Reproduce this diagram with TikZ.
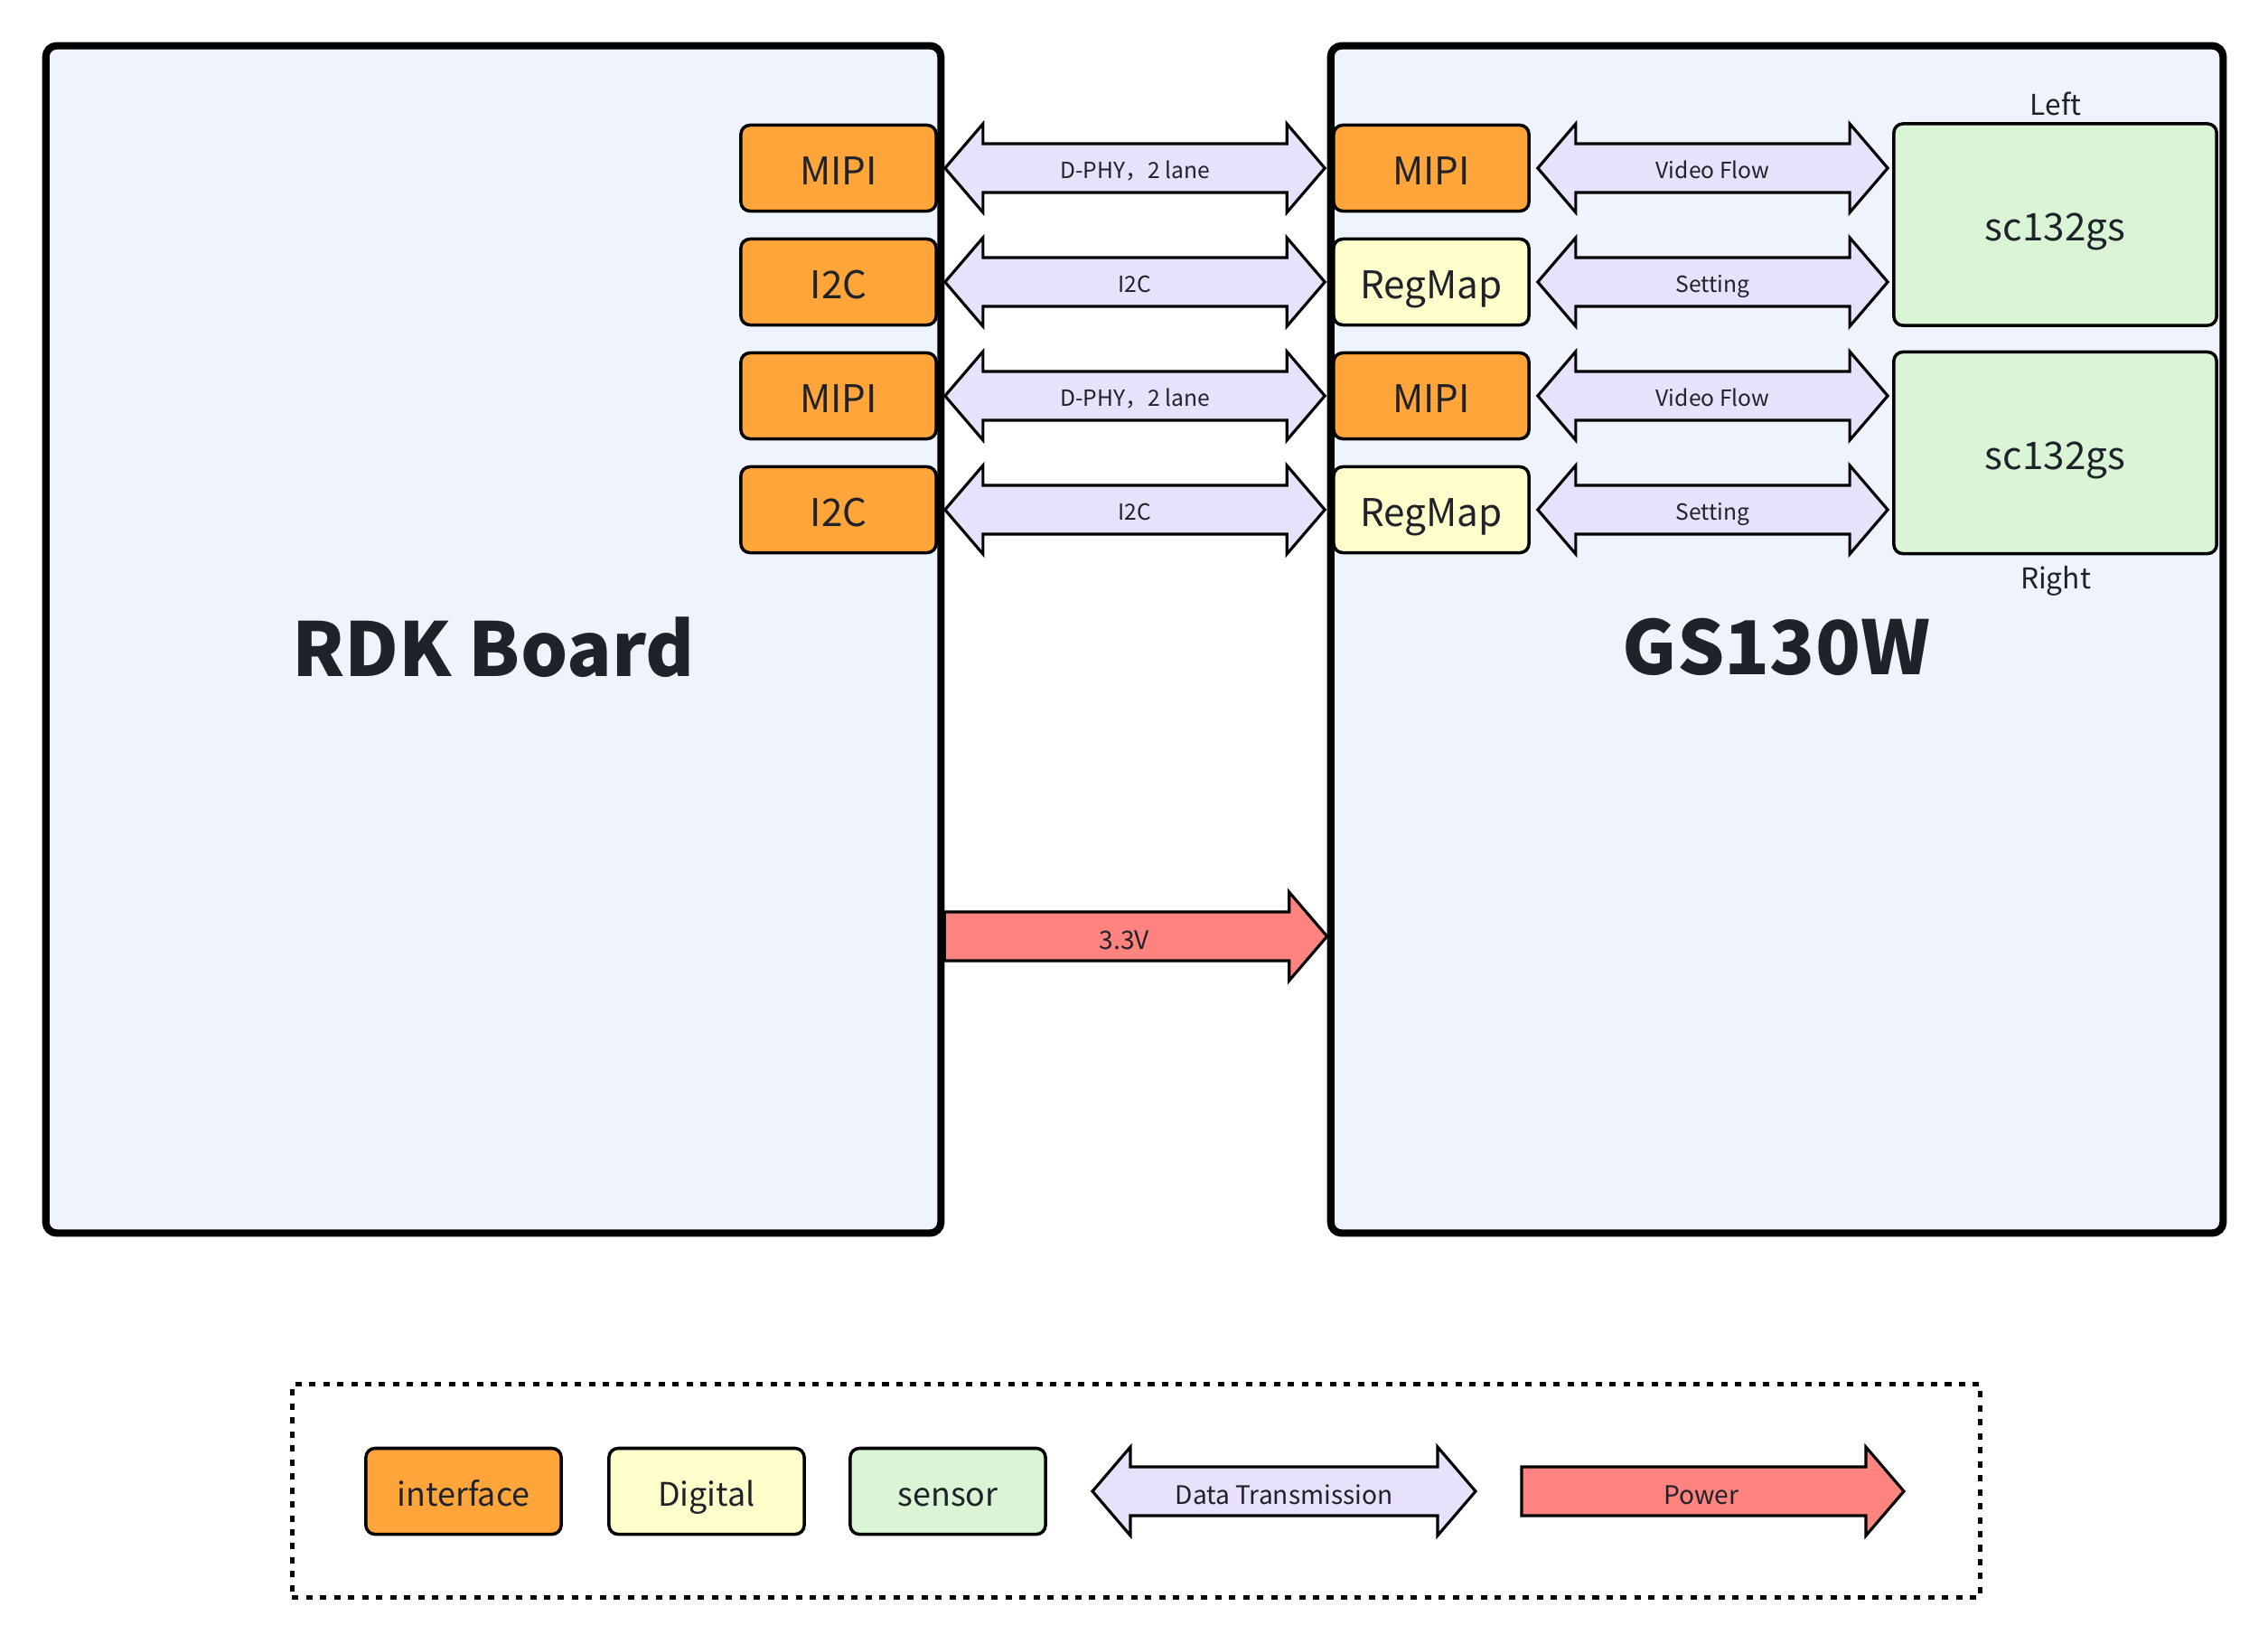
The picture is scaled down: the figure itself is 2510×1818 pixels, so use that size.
\documentclass[tikz,border=0pt]{standalone}
\usepackage{fontspec}
\setmainfont{Noto Sans CJK SC}
\usetikzlibrary{calc}

\definecolor{boardbg}{HTML}{EFF3FB}
\definecolor{ifaceorange}{HTML}{FFA53A}
\definecolor{digyellow}{HTML}{FFFFCC}
\definecolor{sensgreen}{HTML}{D9F5D6}
\definecolor{flowviolet}{HTML}{E8E1FB}
\definecolor{powerred}{HTML}{FF8480}
\definecolor{ink}{HTML}{1F2329}

\def\headlen{0.42cm}
\def\headhw{0.49cm}
\def\shafthw{0.27cm}
\def\gap{0.08cm}

% fat double arrow: name, start, end, text
\newcommand{\dataflow}[4]{%
  \draw[flow] let \p1=(#2), \p2=(#3) in
    (\x1,\y1) -- (\x1+\headlen,\y1+\headhw) -- (\x1+\headlen,\y1+\shafthw)
    -- (\x2-\headlen,\y1+\shafthw) -- (\x2-\headlen,\y1+\headhw) -- (\x2,\y1)
    -- (\x2-\headlen,\y1-\headhw) -- (\x2-\headlen,\y1-\shafthw)
    -- (\x1+\headlen,\y1-\shafthw) -- (\x1+\headlen,\y1-\headhw) -- cycle
    node[flowlabel] (#1) at ({(\x1+\x2)/2},\y1) {#4};}

% fat single arrow: name, start, end, text
\newcommand{\powerflow}[4]{%
  \draw[power] let \p1=(#2), \p2=(#3) in
    (\x1,\y1+\shafthw) -- (\x2-\headlen,\y1+\shafthw) -- (\x2-\headlen,\y1+\headhw)
    -- (\x2,\y1) -- (\x2-\headlen,\y1-\headhw) -- (\x2-\headlen,\y1-\shafthw)
    -- (\x1,\y1-\shafthw) -- cycle
    node[flowlabel] (#1) at ({\x1+0.47*(\x2-\x1)},\y1) {#4};}

\tikzset{
  board/.style={draw, line width=2.3pt, rounded corners=0.12cm, fill=boardbg},
  block/.style={draw, line width=1pt, rounded corners=0.1cm, minimum width=2.16cm,
    minimum height=0.95cm, inner sep=0pt, text=ink, text height=10.5pt, text depth=0pt,
    font=\fontsize{12}{14}\selectfont},
  iface/.style={block, fill=ifaceorange},
  digital/.style={block, fill=digyellow},
  sensor/.style={block, fill=sensgreen, minimum width=3.57cm, minimum height=2.23cm},
  keybox/.style={text height=9.2pt, font=\fontsize{10.2}{12}\selectfont},
  flow/.style={draw, line width=0.9pt, fill=flowviolet, line join=miter},
  power/.style={draw, line width=0.9pt, fill=powerred, line join=miter},
  flowlabel/.style={text=ink, inner sep=0pt, text height=6.6pt, text depth=0pt,
    font=\fontsize{7}{8}\selectfont},
  biglabel/.style={flowlabel/.append style={text height=8.1pt, font=\fontsize{8}{9}\selectfont}},
  title/.style={text=ink, font=\fontsize{23.4}{26}\selectfont\bfseries},
  side/.style={text=ink, inner sep=0pt, font=\fontsize{9}{10}\selectfont},
  legendbox/.style={draw, line width=1.4pt, dash pattern=on 2pt off 2.4pt},
}

\begin{document}
\begin{tikzpicture}[x=0.01cm, y=-0.01cm]
    \useasboundingbox (0,0) rectangle (2510,1818);

    % boards
    \node[board, minimum width=9.90cm, minimum height=13.13cm] (rdk) at (546,707.5) {};
    \node[board, minimum width=9.87cm, minimum height=13.13cm] (gs) at (1966.5,707.5) {};
    \node[title] (rdkTitle) at (546,716) {RDK Board};
    \node[title] (gsTitle) at (1966,716) {GS130W};

    % RDK side interfaces
    \node[iface] (mipiL1) at (928,186) {MIPI};
    \node[iface] (i2cL1) at (928,312) {I2C};
    \node[iface] (mipiL2) at (928,438) {MIPI};
    \node[iface] (i2cL2) at (928,564) {I2C};

    % GS130W side
    \node[iface] (mipiR1) at (1584,186) {MIPI};
    \node[digital] (regR1) at (1584,312) {RegMap};
    \node[iface] (mipiR2) at (1584,438) {MIPI};
    \node[digital] (regR2) at (1584,564) {RegMap};

    % sensors
    \node[sensor] (sensL) at (2274.5,248.5) {sc132gs};
    \node[sensor] (sensR) at (2274.5,501) {sc132gs};
    \node[side] (leftLbl) at (2275,115) {Left};
    \node[side] (rightLbl) at (2275,643) {Right};

    % links between boards
    \dataflow{lkD1}{[xshift=\gap]mipiL1.east}{[xshift=-\gap]mipiR1.west}{D-PHY，2 lane}
    \dataflow{lkI1}{[xshift=\gap]i2cL1.east}{[xshift=-\gap]regR1.west}{I2C}
    \dataflow{lkD2}{[xshift=\gap]mipiL2.east}{[xshift=-\gap]mipiR2.west}{D-PHY，2 lane}
    \dataflow{lkI2}{[xshift=\gap]i2cL2.east}{[xshift=-\gap]regR2.west}{I2C}

    % links to sensors
    \dataflow{lkV1}{[xshift=\gap]mipiR1.east}{[xshift=-0.05cm]sensL.west}{Video Flow}
    \dataflow{lkS1}{[xshift=\gap]regR1.east}{[xshift=-0.05cm]sensL.west}{Setting}
    \dataflow{lkV2}{[xshift=\gap]mipiR2.east}{[xshift=-0.05cm]sensR.west}{Video Flow}
    \dataflow{lkS2}{[xshift=\gap]regR2.east}{[xshift=-0.05cm]sensR.west}{Setting}

    \begin{scope}[biglabel]
    % supply
    \powerflow{pwrLbl}{rdk.east |- 0,1036}{gs.west |- 0,1036}{3.3V}

    % legend
    \node[legendbox, minimum width=18.67cm, minimum height=2.35cm] (legend) at (1257.5,1649.5) {};
    \node[iface, keybox] (lgIface) at (513,1650) {interface};
    \node[digital, keybox] (lgDigital) at (782,1650) {Digital};
    \node[block, keybox, fill=sensgreen] (lgSensor) at (1049,1650) {sensor};
    \coordinate (lgDataS) at (1209,1650);
    \coordinate (lgDataE) at (1633,1650);
    \dataflow{lgData}{lgDataS}{lgDataE}{Data Transmission}
    \coordinate (lgPwrS) at (1684,1650);
    \coordinate (lgPwrE) at (2107,1650);
    \powerflow{lgPower}{lgPwrS}{lgPwrE}{Power}
    \end{scope}
\end{tikzpicture}
\end{document}
